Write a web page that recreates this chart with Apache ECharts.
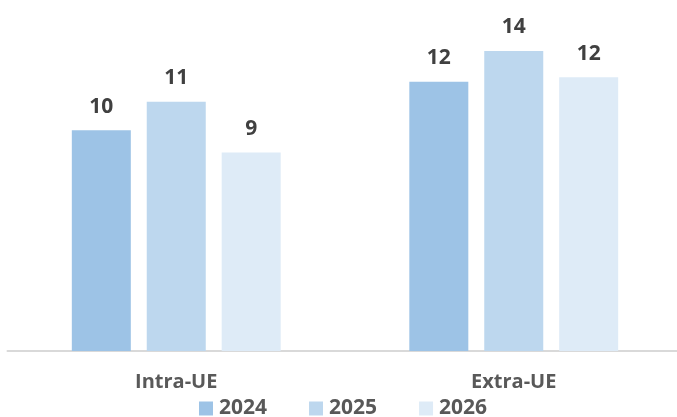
<!DOCTYPE html>
<html>
<head>
<meta charset="utf-8">
<script src="https://cdn.jsdelivr.net/npm/echarts@6/dist/echarts.min.js"></script>
<style>
  html, body { margin: 0; padding: 0; background: #fff; }
  #chart { width: 677px; height: 417px; }
</style>
</head>
<body>
<div id="chart"></div>
<script>
// categories and values
const categories = ['Intra-UE', 'Extra-UE']
const years = ['2024', '2025', '2026']
const values2024 = [10.0, 12.2]
const values2025 = [11.3, 13.6]
const values2026 = [9.0, 12.4]

const colors = ['#9DC3E6', '#BDD7EE', '#DEEBF7']
const font = '"Open Sans", "Liberation Sans", sans-serif'

const chart = echarts.init(document.getElementById('chart'))

const makeSeries = (name, data, color) => ({
  name: name,
  type: 'bar',
  data: data,
  barWidth: 59,
  barGap: '27%',
  itemStyle: { color: color },
  label: {
    show: true,
    position: 'top',
    distance: 13,
    fontFamily: font,
    fontWeight: 'bold',
    fontSize: 21,
    color: '#404040',
    formatter: p => Math.round(p.value)
  }
})

chart.setOption({
  animation: false,
  grid: { left: 7.5, width: 675, top: 20, bottom: 66, outerBoundsMode: 'none', containLabel: false },
  legend: {
    data: years,
    left: 199,
    top: 398,
    padding: 0,
    itemWidth: 14,
    itemHeight: 14,
    itemGap: 42,
    icon: 'rect',
    textStyle: {
      fontFamily: font,
      fontWeight: 'bold',
      fontSize: 21,
      color: '#595959',
      padding: [0, 0, 0, 1]
    }
  },
  xAxis: {
    type: 'category',
    data: categories,
    axisLine: { lineStyle: { color: '#D9D9D9', width: 2 } },
    axisTick: { show: false },
    axisLabel: {
      margin: 21,
      fontFamily: font,
      fontWeight: 'bold',
      fontSize: 20,
      color: '#595959'
    }
  },
  yAxis: {
    type: 'value',
    min: 0,
    max: 15,
    show: false,
    splitLine: { show: false }
  },
  series: [
    makeSeries(years[0], values2024, colors[0]),
    makeSeries(years[1], values2025, colors[1]),
    makeSeries(years[2], values2026, colors[2])
  ]
})
</script>
</body>
</html>
